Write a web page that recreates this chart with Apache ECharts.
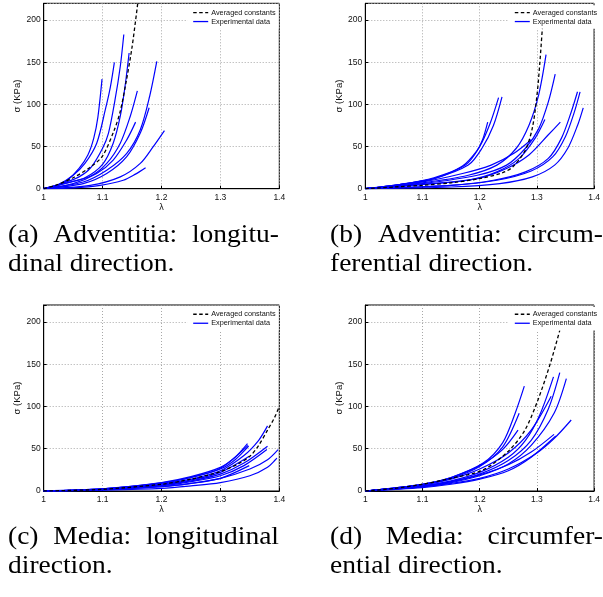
<!DOCTYPE html>
<html>
<head>
<meta charset="utf-8">
<script src="https://cdn.jsdelivr.net/npm/echarts@6/dist/echarts.min.js"></script>
<style>
html,body{margin:0;padding:0;background:#fff;}
#chart{width:603px;height:597px;}
</style>
</head>
<body>
<div id="chart"></div>
<script>
// ---------- tick labels / names ----------
const xTicks = [1, 1.1, 1.2, 1.3, 1.4];
const yTicks = [0, 50, 100, 150, 200];
const legendNames = ['Averaged constants', 'Experimental data'];
const xName = 'λ';
const yName = 'σ (KPa)';

// ---------- (a) Adventitia, longitudinal ----------
const advLongAvg = [[1,0],[1.02,4],[1.05,13],[1.08,26],[1.1,39],[1.12,70],[1.13,92],[1.14,127],[1.15,168],[1.16,222]];
const advLongExp = [
  [[1,0],[1.02,3],[1.04,10],[1.06,24],[1.075,40],[1.085,60],[1.092,85],[1.099,130]],
  [[1,0],[1.025,5],[1.05,16],[1.07,30],[1.09,54],[1.105,95],[1.113,120],[1.12,150]],
  [[1,0],[1.03,6],[1.06,14],[1.08,25],[1.1,48],[1.11,66],[1.121,105],[1.13,145],[1.136,183]],
  [[1,0],[1.04,7],[1.07,13],[1.1,29],[1.118,54],[1.13,86],[1.138,121],[1.145,161]],
  [[1,0],[1.04,7],[1.08,15],[1.107,30],[1.13,54],[1.147,86],[1.159,116]],
  [[1,0],[1.067,8],[1.107,22],[1.141,42],[1.164,70],[1.18,110],[1.192,151]],
  [[1,0],[1.067,6],[1.107,18],[1.141,38],[1.164,66],[1.179,96]],
  [[1,0],[1.05,6],[1.09,18],[1.118,34],[1.141,58],[1.156,79]],
  [[1,0],[1.079,4],[1.13,14],[1.164,30],[1.186,50],[1.205,69]],
  [[1,0],[1.05,1],[1.096,4],[1.135,10],[1.155,17],[1.173,25]]
];

// ---------- (b) Adventitia, circumferential ----------
const advCircAvg = [[1,0],[1.05,2],[1.1,4],[1.15,7],[1.2,12],[1.24,19],[1.258,26],[1.28,46],[1.292,72],[1.3,110],[1.305,148],[1.31,195]];
const advCircExp = [
  [[1,0],[1.06,5],[1.12,12],[1.18,28],[1.204,48],[1.224,75],[1.239,109]],
  [[1,0],[1.06,5],[1.12,13],[1.175,28],[1.2,50],[1.218,77],[1.233,108]],
  [[1,0],[1.06,5],[1.12,12],[1.17,27],[1.195,45],[1.205,58],[1.214,79]],
  [[1,0],[1.1,7],[1.18,16],[1.23,28],[1.264,48],[1.286,75],[1.303,111],[1.316,159]],
  [[1,0],[1.1,6],[1.196,16],[1.247,28],[1.28,48],[1.303,71],[1.32,103],[1.332,136]],
  [[1,0],[1.1,5],[1.179,10],[1.23,20],[1.269,36],[1.297,60],[1.314,82]],
  [[1,0],[1.1,5],[1.196,12],[1.247,24],[1.286,40],[1.32,64],[1.341,79]],
  [[1,0],[1.15,4],[1.224,10],[1.28,20],[1.32,36],[1.343,60],[1.36,91],[1.371,115]],
  [[1,0],[1.15,4],[1.23,10],[1.29,21],[1.328,38],[1.35,62],[1.365,90],[1.3755,115]],
  [[1,0],[1.15,2],[1.235,6],[1.292,14],[1.331,28],[1.354,48],[1.371,75],[1.381,96]],
  [[1,0],[1.1,8],[1.17,18],[1.22,28],[1.26,42],[1.29,58]]
];

// ---------- (c) Media, longitudinal ----------
const medLongAvg = [[1,0],[1.1,2],[1.2,8],[1.25,14],[1.3,23],[1.33,32],[1.35,41],[1.365,54],[1.38,72],[1.392,87],[1.4,100]];
const medLongExp = [
  [[1,0],[1.1,2.5],[1.2,10],[1.25,17],[1.3,28],[1.325,40],[1.346,56]],
  [[1,0],[1.1,2.5],[1.2,9],[1.25,16],[1.3,26],[1.325,37],[1.348,53]],
  [[1,0],[1.1,2],[1.2,8],[1.25,14],[1.3,24],[1.34,42],[1.365,60],[1.38,77]],
  [[1,0],[1.1,2],[1.2,7],[1.25,12],[1.3,20],[1.34,33],[1.38,53]],
  [[1,0],[1.1,1.5],[1.2,6],[1.25,11],[1.3,18],[1.34,30],[1.379,49]],
  [[1,0],[1.1,1.5],[1.2,5],[1.25,9],[1.3,15],[1.35,26],[1.38,37],[1.398,49]],
  [[1,0],[1.1,1],[1.2,3],[1.25,6],[1.3,10],[1.35,18],[1.38,28],[1.396,39]],
  [[1,0],[1.1,1.5],[1.2,5],[1.25,9],[1.3,15],[1.349,30]],
  [[1,0],[1.1,2],[1.2,7],[1.25,13],[1.3,22],[1.349,41]],
  [[1,0],[1.1,2.5],[1.2,9.5],[1.25,16],[1.3,27],[1.347,54]]
];

// ---------- (d) Media, circumferential ----------
const medCircAvg = [[1,0],[1.05,3],[1.1,8],[1.15,15],[1.206,25],[1.25,47],[1.279,72],[1.302,108],[1.324,152],[1.34,190]];
const medCircExp = [
  [[1,0],[1.1,8],[1.15,16],[1.206,33],[1.24,57],[1.262,92],[1.278,124]],
  [[1,0],[1.1,8],[1.15,15],[1.2,29],[1.24,52],[1.269,92]],
  [[1,0],[1.1,8],[1.15,16],[1.2,30],[1.24,49],[1.267,72]],
  [[1,0],[1.1,6],[1.15,12],[1.2,22],[1.25,40],[1.28,60],[1.305,90],[1.329,135]],
  [[1,0],[1.1,5],[1.15,11],[1.2,20],[1.25,36],[1.29,60],[1.32,97],[1.34,140]],
  [[1,0],[1.1,5],[1.15,10],[1.2,18],[1.25,32],[1.29,54],[1.33,92],[1.3515,133]],
  [[1,0],[1.1,5],[1.15,9],[1.2,15],[1.25,26],[1.3,45],[1.33,62],[1.36,84]],
  [[1,0],[1.1,4],[1.15,8],[1.2,14],[1.25,24],[1.29,40],[1.333,65]],
  [[1,0],[1.1,6],[1.15,11],[1.2,19],[1.25,31],[1.29,46],[1.33,67]],
  [[1,0],[1.1,7],[1.15,14],[1.2,26],[1.25,45],[1.29,72],[1.325,112]]
];

// ---------- captions ----------
const captionLines = [
  ['(a)', 'Adventitia:', 'longitu-'],
  ['dinal direction.'],
  ['(b)', 'Adventitia:', 'circum-'],
  ['ferential direction.'],
  ['(c)', 'Media:', 'longitudinal'],
  ['direction.'],
  ['(d)', 'Media:', 'circumfer-'],
  ['ential direction.']
];

// ================= layout / styling =================
const panels = [
  { avg: advLongAvg, exp: advLongExp },
  { avg: advCircAvg, exp: advCircExp },
  { avg: medLongAvg, exp: medLongExp },
  { avg: medCircAvg, exp: medCircExp }
];
const gridBoxes = [
  { left: 43.7, top: 3.3, width: 235.6, height: 185.4 },
  { left: 365.3, top: 3.3, width: 236, height: 185.4 },
  { left: 43.7, top: 305, width: 235.6, height: 186 },
  { left: 365.3, top: 305, width: 236, height: 186 }
];
// caption column [left, right] and baseline of each line
const colLeft = [8, 8, 330, 330, 8, 8, 330, 330];
const colRight = [279, 279, 603, 603, 279, 279, 603, 603];
const lineBase = [243, 272, 545, 574].flatMap(b => [b]);
const lineBaseAll = [243, 272, 243, 272, 545, 574, 545, 574];

const sansFont = '"Liberation Sans", Arial, sans-serif';
const gridLine = { color: '#a8a8a8', width: 1, type: [1, 2] };
const capFontSize = 25;
const capScale = 1.1;
const capFont = capFontSize + 'px "Liberation Serif", "Times New Roman", serif';

const solidIcon = 'path://M0,0h15v1.3h-15z';
const dashIcon = 'path://M0,0h3.5v1.3h-3.5zM6,0h3.5v1.3h-3.5zM12,0h3v1.3h-3z';

const grids = [], xAxes = [], yAxes = [], series = [], legends = [];
panels.forEach((p, i) => {
  const g = gridBoxes[i];
  grids.push(Object.assign({ show: true, borderColor: '#000', borderWidth: 1, backgroundColor: '#fff', containLabel: false }, g));
  xAxes.push({
    type: 'value', gridIndex: i, min: xTicks[0], max: xTicks[xTicks.length - 1], interval: 0.1,
    axisLine: { show: true, onZero: false, lineStyle: { color: '#000', width: 1 } },
    axisTick: { show: true, inside: true, length: 3, lineStyle: { color: '#000' } },
    axisLabel: {
      color: '#111', fontSize: 8.5, fontFamily: sansFont, margin: 4,
      formatter: v => { const t = xTicks.find(t => Math.abs(t - v) < 1e-6); return t === undefined ? '' : String(t); }
    },
    splitLine: { show: true, lineStyle: gridLine },
    name: xName, nameLocation: 'middle', nameGap: 12,
    nameTextStyle: { color: '#111', fontSize: 9, fontFamily: sansFont }
  });
  yAxes.push({
    type: 'value', gridIndex: i, min: 0, max: 220, interval: 50,
    axisLine: { show: true, onZero: false, lineStyle: { color: '#000', width: 1 } },
    axisTick: { show: true, inside: true, length: 3, lineStyle: { color: '#000' } },
    axisLabel: {
      color: '#111', fontSize: 8.5, fontFamily: sansFont, margin: 3,
      formatter: v => (yTicks.indexOf(v) >= 0 ? String(v) : '')
    },
    splitLine: { show: true, lineStyle: gridLine },
    name: yName, nameLocation: 'middle', nameGap: 14,
    nameTextStyle: { color: '#111', fontSize: 9.5, fontFamily: sansFont }
  });
  p.exp.forEach(curve => {
    series.push({
      name: legendNames[1], type: 'line', xAxisIndex: i, yAxisIndex: i,
      data: curve, symbol: 'none', showSymbol: false, smooth: 0.3,
      lineStyle: { color: '#0000ff', width: 1.2 }, itemStyle: { color: '#0000ff' },
      silent: true, animation: false, z: 2
    });
  });
  series.push({
    name: legendNames[0], type: 'line', xAxisIndex: i, yAxisIndex: i,
    data: p.avg, symbol: 'none', showSymbol: false, smooth: 0.3,
    lineStyle: { color: '#000', width: 1.3, type: [3.5, 2.5] }, itemStyle: { color: '#000' },
    silent: true, animation: false, z: 3
  });
  legends.push({
    data: [{ name: legendNames[0], icon: dashIcon }, { name: legendNames[1], icon: solidIcon }],
    orient: 'vertical',
    left: g.left + 143.5, top: g.top + 2,
    itemWidth: 15, itemHeight: 1.3, itemGap: 0.5,
    padding: [3, 3, 3, 6], backgroundColor: '#fff',
    selectedMode: false,
    textStyle: { fontSize: 7.3, fontFamily: sansFont, color: '#111', lineHeight: 8.5, padding: [0, 0, 0, -2] }
  });
});

// caption words: justified first lines, left-aligned last lines
const measureCtx = document.createElement('canvas').getContext('2d');
measureCtx.font = capFont;
const graphics = [];
captionLines.forEach((words, li) => {
  const widths = words.map(w => measureCtx.measureText(w).width * capScale);
  let xs = [colLeft[li]];
  if (words.length > 1) {
    const total = widths.reduce((s, w) => s + w, 0);
    const gap = (colRight[li] - colLeft[li] - total) / (words.length - 1);
    xs = [];
    let x = colLeft[li];
    words.forEach((w, wi) => { xs.push(x); x += widths[wi] + gap; });
  }
  words.forEach((w, wi) => {
    graphics.push({
      type: 'text', x: xs[wi], y: lineBaseAll[li] - 8, scaleX: capScale,
      style: { text: w, fill: '#000', font: capFont, textAlign: 'left', verticalAlign: 'middle' },
      silent: true
    });
  });
});

const chart = echarts.init(document.getElementById('chart'), null, { renderer: 'canvas' });
chart.setOption({
  backgroundColor: '#fff',
  animation: false,
  grid: grids, xAxis: xAxes, yAxis: yAxes,
  legend: legends,
  series: series,
  graphic: graphics
});
</script>
</body>
</html>
